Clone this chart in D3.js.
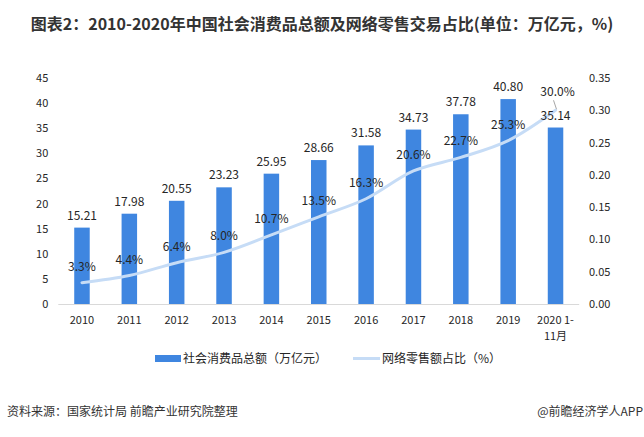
<!DOCTYPE html>
<html><head><meta charset="utf-8">
<script src="https://cdn.jsdelivr.net/npm/d3@7"></script>
<style>
html,body{margin:0;padding:0;background:#fff;}
svg{display:block;font-family:"Noto Sans CJK SC","Noto Sans",sans-serif;}
</style></head>
<body><svg id="c" width="644" height="437"></svg>
<script>
const categories = ["2010","2011","2012","2013","2014","2015","2016","2017","2018","2019","2020 1-|11月"];
const retailTotal = [15.21,17.98,20.55,23.23,25.95,28.66,31.58,34.73,37.78,40.80,35.14];
const onlineShare = [0.033,0.044,0.064,0.080,0.107,0.135,0.163,0.206,0.227,0.253,0.300];
const leftTicks = [0,5,10,15,20,25,30,35,40,45];
const rightTicks = [0,0.05,0.10,0.15,0.20,0.25,0.30,0.35];
const title = "图表2：2010-2020年中国社会消费品总额及网络零售交易占比(单位：万亿元，%)";
const seriesNames = ["社会消费品总额（万亿元）","网络零售额占比（%）"];
const source = "资料来源：国家统计局 前瞻产业研究院整理";
const credit = "@前瞻经济学人APP";

const svg = d3.select("#c");
const plotTop = 78, plotBottom = 304, plotLeft = 58.3, plotRight = 579.2;
const barColor = "#3f86e0", lineColor = "#c6dcf6", textColor = "#262626";

const x = d3.scaleBand().domain(categories).range([plotLeft, plotRight]).paddingInner(0.68).paddingOuter(0.34);
const yL = d3.scaleLinear().domain([0,45]).range([plotBottom, plotTop]);
const yR = d3.scaleLinear().domain([0,0.35]).range([plotBottom, plotTop]);

svg.append("text").attr("x", 322).attr("y", 30).attr("text-anchor","middle")
  .attr("font-size", 16).attr("font-weight","bold").attr("fill","#333").text(title);

// left axis
const gL = svg.append("g").attr("transform",`translate(${plotLeft-10},0)`)
  .call(d3.axisLeft(yL).tickValues(leftTicks).tickSize(0).tickPadding(0));
gL.select(".domain").remove();
gL.selectAll("text").attr("font-size",11).attr("fill",textColor).attr("font-family","'Noto Sans CJK SC',sans-serif");

// right axis
const gR = svg.append("g").attr("transform",`translate(589,0)`)
  .call(d3.axisRight(yR).tickValues(rightTicks).tickSize(0).tickPadding(0).tickFormat(d3.format(".2f")));
gR.select(".domain").remove();
gR.selectAll("text").attr("font-size",11).attr("fill",textColor).attr("font-family","'Noto Sans CJK SC',sans-serif");

// bars
const bw = 15.5;
svg.append("g").selectAll("rect").data(retailTotal).join("rect")
  .attr("x",(d,i)=>x(categories[i]) + x.bandwidth()/2 - bw/2)
  .attr("width",bw)
  .attr("y",d=>yL(d)).attr("height",d=>plotBottom-yL(d)).attr("fill",barColor);

// baseline
svg.append("line").attr("x1",plotLeft).attr("x2",plotRight).attr("y1",plotBottom+0.5).attr("y2",plotBottom+0.5)
  .attr("stroke","#d9d9d9").attr("stroke-width",1);

// x labels
const xl = svg.append("g");
categories.forEach((c,i)=>{
  const cx = x(c)+x.bandwidth()/2;
  const parts = c.split("|");
  parts.forEach((p,j)=>{
    xl.append("text").attr("x", cx).attr("y", 324 + j*16)
      .attr("text-anchor","middle").attr("font-size",11).attr("fill",textColor).text(p);
  });
});

// line
const line = d3.line().x((d,i)=>x(categories[i])+x.bandwidth()/2).y(d=>yR(d)).curve(d3.curveCatmullRom.alpha(0.5));
svg.append("path").datum(onlineShare).attr("d",line).attr("fill","none")
  .attr("stroke",lineColor).attr("stroke-width",3).attr("stroke-linecap","round");

// bar labels
svg.append("g").selectAll("text").data(retailTotal).join("text")
  .attr("x",(d,i)=>x(categories[i])+x.bandwidth()/2).attr("y",d=>yL(d)-8)
  .attr("text-anchor","middle").attr("font-size",12).attr("fill",textColor).text(d=>d.toFixed(2));

// line labels
const last = onlineShare.length-1;
svg.append("g").selectAll("text").data(onlineShare).join("text")
  .attr("x",(d,i)=>x(categories[i])+x.bandwidth()/2 + (i===last?2:0))
  .attr("y",(d,i)=> i===last ? yR(d)-14 : yR(d)-12)
  .attr("text-anchor","middle").attr("font-size",12).attr("fill",textColor)
  .text(d=>(d*100).toFixed(1)+"%");
{
  const cx = x(categories[last])+x.bandwidth()/2;
  svg.append("line").attr("x1",cx-2).attr("y1",yR(onlineShare[last])-10).attr("x2",cx+1).attr("y2",yR(onlineShare[last])-1)
    .attr("stroke","#a6a6a6").attr("stroke-width",1);
}

// legend
const lg = svg.append("g");
lg.append("rect").attr("x",155).attr("y",355).attr("width",26).attr("height",7).attr("fill",barColor);
lg.append("text").attr("x",183).attr("y",363).attr("font-size",12).attr("fill",textColor).text(seriesNames[0]);
lg.append("line").attr("x1",353).attr("x2",380).attr("y1",358.5).attr("y2",358.5).attr("stroke",lineColor).attr("stroke-width",3);
lg.append("text").attr("x",382).attr("y",363).attr("font-size",12).attr("fill",textColor).text(seriesNames[1]);

// footer
svg.append("text").attr("x",7).attr("y",416).attr("font-size",12).attr("fill","#333").text(source);
svg.append("text").attr("x",643).attr("y",416).attr("text-anchor","end").attr("font-size",12).attr("fill","#333").text(credit);
</script></body></html>
